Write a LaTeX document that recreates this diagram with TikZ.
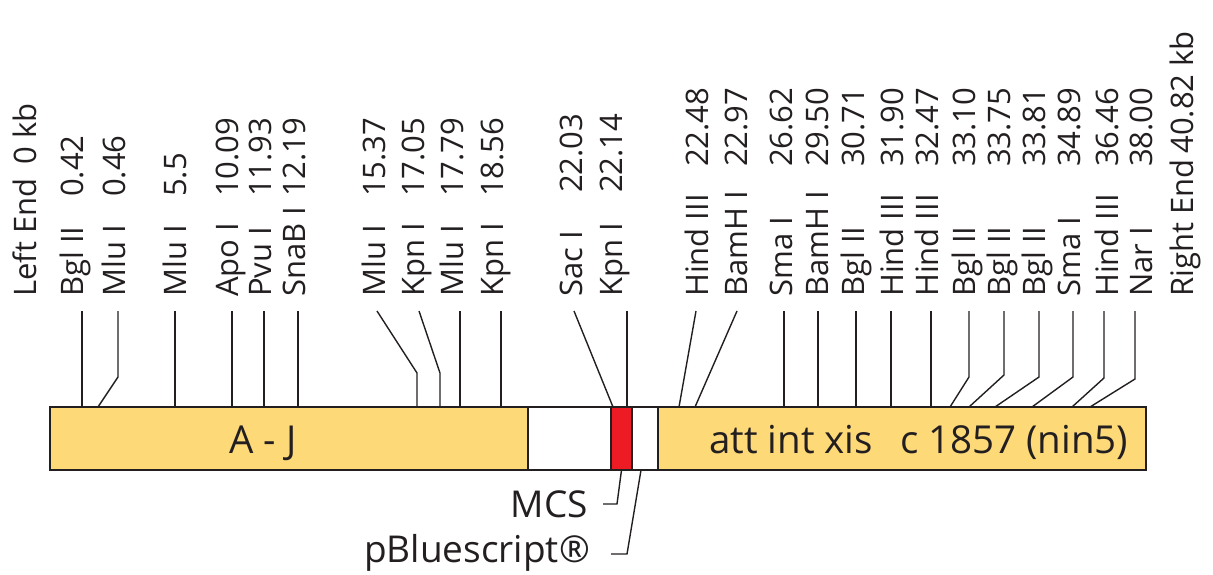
\documentclass[tikz,border=0pt]{standalone}
\usepackage{fontspec}
\setmainfont{Open Sans}

\definecolor{mapyellow}{RGB}{253,217,120}
\definecolor{mcsred}{RGB}{237,28,36}
\definecolor{ink}{RGB}{35,31,32}

\tikzset{
  site/.style={rotate=90, anchor=base west, inner sep=0pt, text=ink,
    font=\fontsize{31}{36}\selectfont},
  link/.style={draw=ink, line width=1.4pt},
  segment/.style={draw=ink, line width=2pt, anchor=north west,
    minimum height=63pt, inner sep=0pt, outer sep=0pt},
  bartext/.style={inner sep=0pt, text=ink, font=\fontsize{38.5}{44}\selectfont},
  tag/.style={anchor=base east, inner sep=0pt, text=ink,
    font=\fontsize{37}{42}\selectfont}
}

\begin{document}
\begin{tikzpicture}[x=1pt, y=-1pt]
            \useasboundingbox (0,0) rectangle (1213,575);
            % Ends of the map
            \node[site] (LeftEnd) at (36,297) {Left End\hspace{14pt}0 kb};
            \node[site] (RightEnd) at (1193,297) {Right End\hspace{6pt}40.82 kb};
            % Restriction sites
            \foreach \name/\val/\w/\bx/\tx/\kx/\ky/\fx [count=\i] in {
                Bgl II/0.42/100/83/82/82/407/82,
                Mlu I/0.46/100/125/118/118/377/98,
                Mlu I/5.5/100/186/175/175/407/175,
                Apo I/10.09/100/238/232/232/407/232,
                Pvu I/11.93/100/271/264/264/407/264,
                SnaB I/12.19/100/305/298/298/407/298,
                Mlu I/15.37/100/385/377/417/373/417,
                Kpn I/17.05/100/424/419/440/373/440,
                Mlu I/17.79/100/463/460/460/407/460,
                Kpn I/18.56/100/503/501/501/407/501,
                Sac I/22.03/104/582/574/574/311/613,
                Kpn I/22.14/104/622/627/627/407/627,
                Hind III/22.48/130/708/696/696/311/679,
                BamH I/22.97/130/747/737/737/311/695,
                Sma I/26.62/130/792/784/784/407/784,
                BamH I/29.50/130/828/818/818/407/818,
                Bgl II/30.71/130/864/856/856/407/856,
                Hind III/31.90/130/903/891/891/407/891,
                Hind III/32.47/130/938/931/931/407/931,
                Bgl II/33.10/130/975/969/969/377/950,
                Bgl II/33.75/130/1010/1004/1004/375/969,
                Bgl II/33.81/130/1045/1039/1039/377/995,
                Sma I/34.89/130/1080/1073/1073/377/1032,
                Hind III/36.46/130/1118/1104/1104/378/1072,
                Nar I/38.00/130/1152/1135/1135/379/1090} {
                \node[site] (Site-\i) at (\bx,297) {\makebox[\w pt][l]{\name}\val};
                \coordinate (Top-\i) at (\tx,311);
                \coordinate (Knee-\i) at (\kx,\ky);
                \coordinate (Foot-\i) at (\fx,407);
                \draw[link] (Top-\i) -- (Knee-\i) -- (Foot-\i);
            }
            % Bar
            \node[segment, fill=mapyellow, minimum width=478pt] (AJ) at (50,407) {};
            \node[segment, fill=white, minimum width=83pt] (Gap1) at (528,407) {};
            \node[segment, fill=mcsred, minimum width=21pt] (Red) at (611,407) {};
            \node[segment, fill=white, minimum width=26pt] (Gap2) at (632,407) {};
            \node[segment, fill=mapyellow, minimum width=488pt] (Att) at (658,407) {};
            \node[bartext, anchor=base] (AJText) at (263,453) {A - J};
            \node[bartext, anchor=base west] (AttText) at (709,453)
                {att int xis\hspace{27pt}c 1857 (nin5)};
            % Labels below
            \node[tag] (Mcs) at (588,517) {MCS};
            \node[tag] (Pbs) at (590,562) {pBluescript®};
            \coordinate (McsKnee) at (617,504);
            \coordinate (McsEnd) at (603,504);
            \draw[link] (Red.south) -- (McsKnee) -- (McsEnd);
            \coordinate (PbsFoot) at (641,470);
            \coordinate (PbsKnee) at (627,554);
            \coordinate (PbsEnd) at (611,554);
            \draw[link] (PbsFoot) -- (PbsKnee) -- (PbsEnd);
\end{tikzpicture}
\end{document}
